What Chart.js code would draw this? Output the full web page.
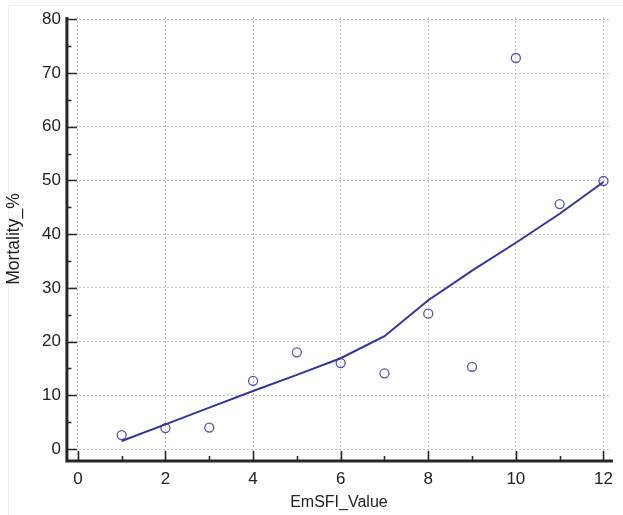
<!DOCTYPE html>
<html>
<head>
<meta charset="utf-8">
<script src="https://cdn.jsdelivr.net/npm/chart.js@4.4.1/dist/chart.umd.min.js"></script>
<style>
  html, body { margin: 0; padding: 0; background: #fff; }
  #wrap { position: relative; width: 623px; height: 515px; }
  #frame { position: absolute; left: 8px; top: 5px; right: 0; bottom: 0; z-index: 0;
           border-left: 1px solid #ececec; border-top: 1px solid #ececec; pointer-events: none; }
  canvas { display: block; position: relative; z-index: 1; }
</style>
</head>
<body>
<div id="wrap">
  <div id="frame"></div>
  <canvas id="c" width="623" height="515"></canvas>
</div>
<script>
// ---- data ----
const emsfiValues = [1, 2, 3, 4, 5, 6, 7, 8, 9, 10, 11, 12];
const observedMortality = [2.6, 3.9, 4.0, 12.7, 18.0, 16.0, 14.1, 25.2, 15.3, 72.8, 45.6, 49.9];
const fittedMortality = [1.5, 4.6, 7.7, 10.8, 13.8, 16.9, 21.0, 27.7, 33.2, 38.4, 43.8, 49.7];
const xMajorTicks = [0, 2, 4, 6, 8, 10, 12];
const xMinorTicks = [1, 3, 5, 7, 9, 11];
const yMajorTicks = [0, 10, 20, 30, 40, 50, 60, 70, 80];
const yMinorTicks = [5, 15, 25, 35, 45, 55, 65, 75];
const xTitle = 'EmSFI_Value';
const yTitle = 'Mortality_%';

const axisColor = '#262626';
const textColor = '#222222';
const gridColor = '#c2c2c2';
const lineColor = '#3434a0';
const pointColor = '#5252b4';

const fitPoints = emsfiValues.map((x, i) => ({ x: x, y: fittedMortality[i] }));
const obsPoints = emsfiValues.map((x, i) => ({ x: x, y: observedMortality[i] }));

const axisPlugin = {
  id: 'axisTicks',
  afterDatasetsDraw(chart) {
    const ctx = chart.ctx;
    const area = chart.chartArea;
    const xs = chart.scales.x, ys = chart.scales.y;
    ctx.save();
    ctx.strokeStyle = axisColor;
    ctx.lineWidth = 3;
    ctx.beginPath();
    ctx.moveTo(area.left, area.top);
    ctx.lineTo(area.left, area.bottom);
    ctx.lineTo(area.right + 2, area.bottom);
    ctx.stroke();
    ctx.lineWidth = 1.6;
    ctx.beginPath();
    xMajorTicks.forEach(v => { const p = Math.round(xs.getPixelForValue(v)) + 0.5; ctx.moveTo(p, area.bottom); ctx.lineTo(p, area.bottom - 10); });
    xMinorTicks.forEach(v => { const p = Math.round(xs.getPixelForValue(v)) + 0.5; ctx.moveTo(p, area.bottom); ctx.lineTo(p, area.bottom - 5); });
    yMajorTicks.forEach(v => { const p = Math.round(ys.getPixelForValue(v)) + 0.5; ctx.moveTo(area.left, p); ctx.lineTo(area.left + 10, p); });
    yMinorTicks.forEach(v => { const p = Math.round(ys.getPixelForValue(v)) + 0.5; ctx.moveTo(area.left, p); ctx.lineTo(area.left + 4.5, p); });
    ctx.stroke();
    ctx.restore();
  }
};

new Chart(document.getElementById('c'), {
  type: 'scatter',
  data: {
    datasets: [
      {
        label: 'fit',
        data: fitPoints,
        showLine: true,
        borderColor: lineColor,
        borderWidth: 2,
        pointRadius: 0,
        pointHoverRadius: 0,
        tension: 0,
        fill: false
      },
      {
        label: 'observed',
        data: obsPoints,
        showLine: false,
        pointStyle: 'circle',
        pointRadius: 4.5,
        pointBorderWidth: 1.3,
        pointBorderColor: pointColor,
        pointBackgroundColor: 'rgba(255,255,255,0)',
        borderColor: pointColor,
        backgroundColor: 'rgba(255,255,255,0)'
      }
    ]
  },
  options: {
    responsive: false,
    animation: false,
    events: [],
    layout: { padding: { left: 0, right: 2, top: 17, bottom: 0 } },
    plugins: { legend: { display: false }, tooltip: { enabled: false } },
    scales: {
      x: {
        type: 'linear',
        min: -0.25,
        max: 12.17,
        afterBuildTicks: s => { s.ticks = xMajorTicks.map(v => ({ value: v })); },
        grid: { color: gridColor, lineWidth: 1, drawTicks: false },
        border: { display: false, dash: [2, 2] },
        ticks: { color: textColor, padding: 10, maxRotation: 0, autoSkip: false,
                 font: { family: '"Liberation Sans", Arial, sans-serif', size: 17, lineHeight: 1.0 } },
        title: { display: true, text: xTitle, color: textColor,
                 font: { family: '"Liberation Sans", Arial, sans-serif', size: 16, lineHeight: 1.2 },
                 padding: { top: -4.6, bottom: 2.4 } }
      },
      y: {
        type: 'linear',
        min: -2.23,
        max: 80.43,
        afterBuildTicks: s => { s.ticks = yMajorTicks.map(v => ({ value: v })); },
        grid: { color: gridColor, lineWidth: 1, drawTicks: false },
        border: { display: false, dash: [2, 2] },
        ticks: { color: textColor, padding: 6, autoSkip: false,
                 font: { family: '"Liberation Sans", Arial, sans-serif', size: 17, lineHeight: 1.0 } },
        title: { display: true, text: yTitle, color: textColor,
                 font: { family: '"Liberation Sans", Arial, sans-serif', size: 17.5, lineHeight: 1.2 },
                 padding: { top: 3.5, bottom: 11.5 } }
      }
    }
  },
  plugins: [axisPlugin]
});
</script>
</body>
</html>
